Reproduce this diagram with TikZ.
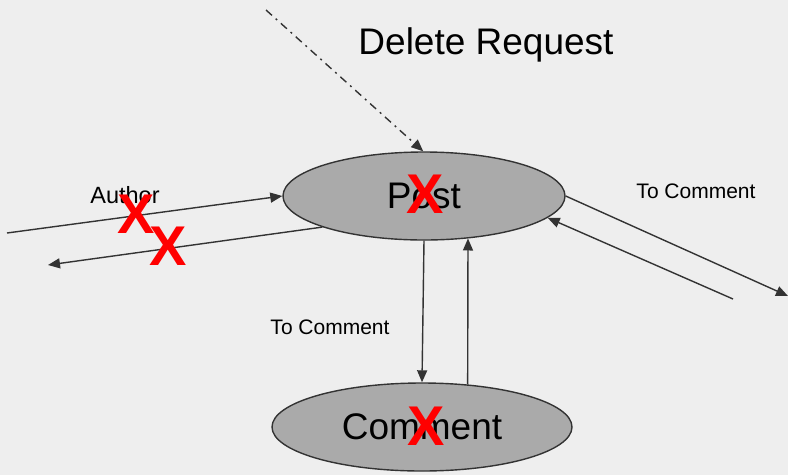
\documentclass[tikz,border=0pt]{standalone}
\usepackage{fontspec}
\setmainfont{Liberation Sans}
\usetikzlibrary{arrows.meta,shapes.geometric}
\definecolor{bg}{HTML}{EEEEEE}
\definecolor{ln}{HTML}{333333}
\definecolor{ellfill}{HTML}{AAAAAA}
\begin{document}
\begin{tikzpicture}[x=1pt,y=-1pt,
  ent/.style={ellipse,draw=ln,line width=1.4pt,fill=ellfill,inner sep=0pt,
    font=\fontsize{37}{44}\selectfont},
  conn/.style={draw=ln,line width=1.4pt,-{Triangle[length=12pt,width=10pt]}},
  lbl/.style={font=\fontsize{21}{25}\selectfont,inner sep=0pt},
  big/.style={font=\fontsize{37}{44}\selectfont,inner sep=0pt},
  xmark/.style={text=red,font=\fontsize{56}{60}\bfseries\selectfont,inner sep=0pt}]
\fill[bg] (0,0) rectangle (788,475);
\useasboundingbox (0,0) rectangle (788,475);

\node[ent,minimum width=282pt,minimum height=88pt] (post) at (424,196) {Post};
\node[ent,minimum width=300pt,minimum height=88pt] (comment) at (422,427) {Comment};

\coordinate (dstart) at (266,10);
\coordinate (ain) at (7,233);
\coordinate (aout) at (48,265);
\coordinate (rout) at (788,296);
\coordinate (rin) at (733,299);

\draw[conn,dash pattern=on 8pt off 5pt on 2pt off 5pt] (dstart) -- (post.91);
\draw[conn] (ain) -- (post.180.5);
\draw[conn] (post.197) -- (aout);
\draw[conn] (post.0) -- (rout);
\draw[conn] (rin) -- (post.-10.5);
\draw[conn] (post.south) -- (comment.north);
\draw[conn] (comment.43) -- (post.-44.3);

\node[big] (dr) at (486,45) {Delete Request};
\node[lbl,font=\fontsize{23.5}{28}\selectfont] (auth) at (125,195) {Author};
\node[lbl] (tc1) at (696,191) {To Comment};
\node[lbl] (tc2) at (330,327) {To Comment};

\node[xmark] (x1) at (136,214) {X};
\node[xmark] (x2) at (168,246) {X};
\node[xmark] (x3) at (425,194) {X};
\node[xmark] (x4) at (426,426) {X};
\end{tikzpicture}
\end{document}
